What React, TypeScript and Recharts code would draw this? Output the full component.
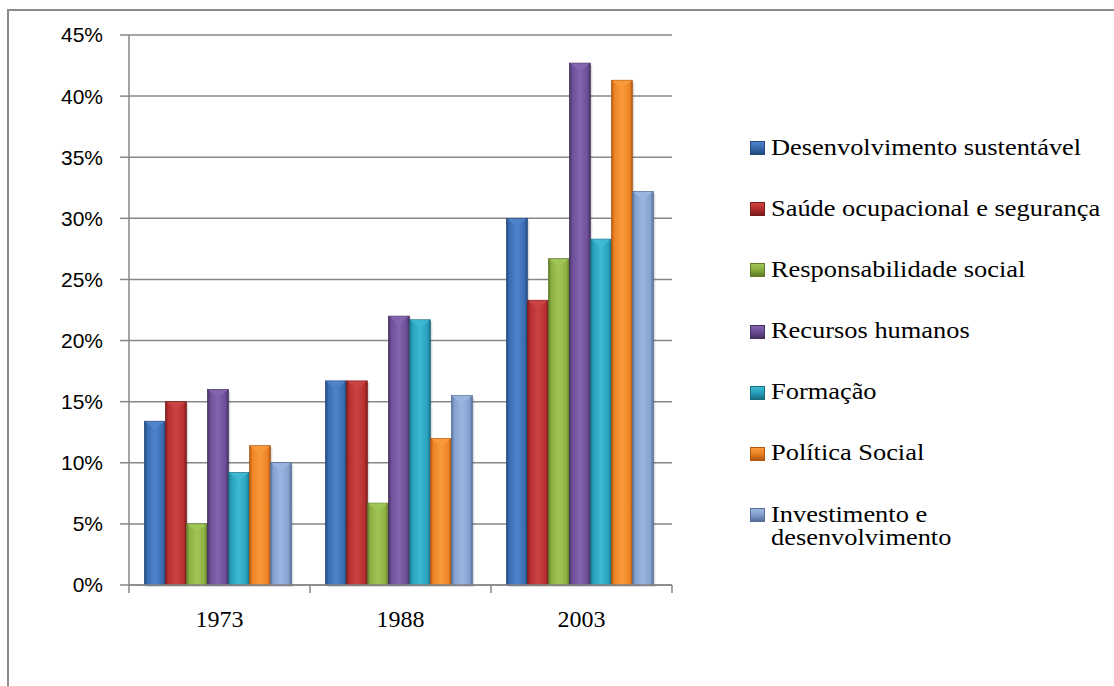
import React from "react";
import { BarChart, Bar, XAxis, YAxis, CartesianGrid } from "recharts";

// values in percent
const years = ["1973", "1988", "2003"];
const desenvolvimentoSustentavel = [13.4, 16.7, 30.0];
const saudeOcupacional = [15.0, 16.7, 23.3];
const responsabilidadeSocial = [5.0, 6.7, 26.7];
const recursosHumanos = [16.0, 22.0, 42.7];
const formacao = [9.2, 21.7, 28.3];
const politicaSocial = [11.4, 12.0, 41.3];
const investimento = [10.0, 15.5, 32.2];
const yTicks = [0, 5, 10, 15, 20, 25, 30, 35, 40, 45];

const series = [
  { key: "s0", name: "Desenvolvimento sustentável", values: desenvolvimentoSustentavel, base: "#3a6cb1", light: "#4f83c9", dark: "#23497f" },
  { key: "s1", name: "Saúde ocupacional e segurança", values: saudeOcupacional, base: "#b73030", light: "#cb4443", dark: "#7a1c1c" },
  { key: "s2", name: "Responsabilidade social", values: responsabilidadeSocial, base: "#8caf42", light: "#a0c557", dark: "#5d7a27" },
  { key: "s3", name: "Recursos humanos", values: recursosHumanos, base: "#6d4f98", light: "#8265ae", dark: "#45305f" },
  { key: "s4", name: "Formação", values: formacao, base: "#27a1bd", light: "#3fb8d3", dark: "#186d81" },
  { key: "s5", name: "Política Social", values: politicaSocial, base: "#ee8426", light: "#f99a3a", dark: "#b0570f" },
  { key: "s6", name: "Investimento e desenvolvimento", values: investimento, base: "#84a1cf", light: "#9ab6e0", dark: "#566f98" },
];

const data = years.map((year, i) => {
  const row: Record<string, string | number> = { year };
  series.forEach((s) => {
    row[s.key] = s.values[i];
  });
  return row;
});

const GRID = "#878787";
const SERIF = '"Liberation Serif", "Times New Roman", Times, serif';

function BevelBar(props: any) {
  const { x, y, width, height, s } = props;
  if (!height || height <= 0) return null;
  const depth = Math.min(width * 0.4, height);
  return (
    <g>
      <rect x={x + 2} y={y + 2} width={width} height={height} fill="rgba(0,0,0,0.13)" />
      <rect x={x} y={y} width={width} height={height} fill={`url(#grad-${s.key})`} stroke={s.dark} strokeWidth={0.7} />
      <polygon
        points={`${x + 1},${y + 0.5} ${x + width - 1},${y + 0.5} ${x + width / 2},${y + depth}`}
        fill={s.light}
      />
    </g>
  );
}

function YearTick(props: any) {
  const { x, y, payload, index, visibleTicksCount } = props;
  const half = payload && payload.offset ? payload.offset : 90.5;
  const axisY = y - 18;
  const last = index === visibleTicksCount - 1;
  return (
    <g>
      <line x1={x - half} x2={x - half} y1={axisY} y2={axisY + 8} stroke={GRID} strokeWidth={1.5} />
      {last && <line x1={x + half} x2={x + half} y1={axisY} y2={axisY + 8} stroke={GRID} strokeWidth={1.5} />}
      <text x={x} y={axisY + 42} textAnchor="middle" fontFamily={SERIF} fontSize={24} fill="#000">
        {payload.value}
      </text>
    </g>
  );
}

function LegendBox() {
  return (
    <div style={{ position: "absolute", left: 750, top: 135.5 }}>
      {series.map((s) => (
        <div key={s.key} style={{ position: "relative", minHeight: 23, marginBottom: 38.2 }}>
          <div
            style={{
              position: "absolute",
              left: 0,
              top: 5.5,
              width: 15,
              height: 14,
              boxSizing: "border-box",
              border: `1px solid ${s.dark}`,
              background: `linear-gradient(180deg, ${s.light} 0%, ${s.base} 45%, ${s.dark} 100%)`,
            }}
          />
          <div
            style={{
              marginLeft: 21,
              width: 305,
              transform: "scaleX(1.1)",
              transformOrigin: "0 0",
              fontFamily: SERIF,
              fontSize: 24,
              lineHeight: "23px",
              color: "#000",
            }}
          >
            {s.name}
          </div>
        </div>
      ))}
    </div>
  );
}

export default function App() {
  return (
    <div style={{ position: "absolute", left: 0, top: 0, width: 1114, height: 686, background: "#fff", overflow: "hidden" }}>
      <div style={{ position: "absolute", left: 7, top: 9, width: 1120, height: 700, borderLeft: "2px solid #8a8a8a", borderTop: "2px solid #8a8a8a" }} />
      <div style={{ position: "absolute", left: 0, top: 0 }}>
        <BarChart
          width={1114}
          height={686}
          data={data}
          margin={{ top: 35, right: 442, left: 69, bottom: 31 }}
          barCategoryGap="8.5%"
          barGap={0}
        >
          <defs>
            {series.map((s) => (
              <linearGradient key={s.key} id={`grad-${s.key}`} x1="0" y1="0" x2="1" y2="0">
                <stop offset="0%" stopColor={s.dark} />
                <stop offset="14%" stopColor={s.base} />
                <stop offset="50%" stopColor={s.light} />
                <stop offset="86%" stopColor={s.base} />
                <stop offset="100%" stopColor={s.dark} />
              </linearGradient>
            ))}
          </defs>
          <CartesianGrid vertical={false} stroke={GRID} strokeWidth={1.5} />
          <XAxis
            dataKey="year"
            height={70}
            tickSize={8}
            tickMargin={10}
            tickLine={false}
            axisLine={{ stroke: GRID, strokeWidth: 1.5 }}
            tick={<YearTick />}
            interval={0}
          />
          <YAxis
            width={60}
            domain={[0, 45]}
            ticks={yTicks}
            interval={0}
            tickFormatter={(v) => `${v}%`}
            tickSize={9}
            tickMargin={17}
            tickLine={{ stroke: GRID, strokeWidth: 1.5 }}
            axisLine={{ stroke: GRID, strokeWidth: 1.5 }}
            tick={{ fontFamily: "'Liberation Sans', Arial, sans-serif", fontSize: 21, fill: "#000" }}
          />
          {series.map((s) => (
            <Bar
              key={s.key}
              dataKey={s.key}
              name={s.name}
              fill={s.base}
              isAnimationActive={false}
              shape={(p: any) => <BevelBar {...p} s={s} />}
            />
          ))}
        </BarChart>
      </div>
      <LegendBox />
    </div>
  );
}
